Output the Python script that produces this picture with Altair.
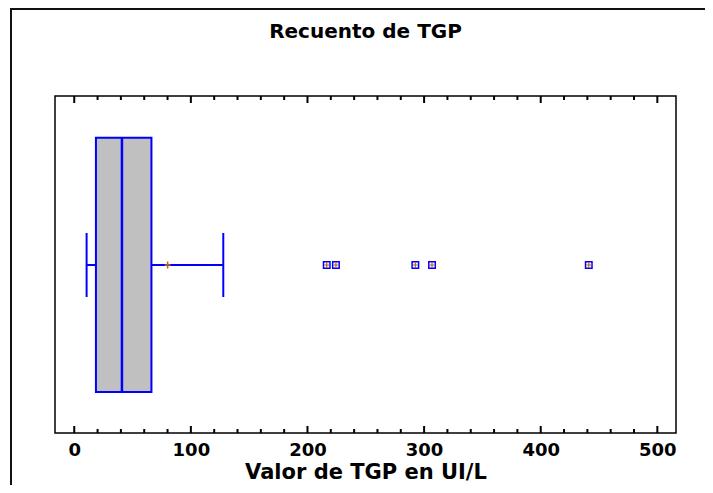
import altair as alt
import pandas as pd

# ---- data ----
chart_title = "Recuento de TGP"
x_title = "Valor de TGP en UI/L"

whisker_low = [10.6]
q1 = [18.6]
median = [40.9]
q3 = [66.2]
whisker_high = [127.8]
mean = [80.1]

outliers = [216.5, 224.4, 292.5, 306.8, 441.2]

major_ticks = [0, 100, 200, 300, 400, 500]
minor_ticks = [20, 40, 60, 80, 120, 140, 160, 180, 220, 240, 260, 280,
               320, 340, 360, 380, 420, 440, 460, 480]

# ---- tables ----
stats = pd.DataFrame({"low": whisker_low, "q1": q1, "median": median,
                      "q3": q3, "high": whisker_high, "mean": mean})
out_df = pd.DataFrame({"v": outliers})
major_df = pd.DataFrame({"v": major_ticks})
minor_df = pd.DataFrame({"v": minor_ticks})
one = pd.DataFrame({"t": [chart_title]})

W, H = 621, 337
FONT = "DejaVu Sans"
BLUE = "#0000ff"
BROWN = "#b8622c"
CROSS = "M-0.85,0H0.85M0,-1V1"

xs = alt.Scale(domain=[-16.5, 516], nice=False, zero=False)

x_axis = alt.Axis(values=major_ticks, ticks=False, tickSize=0, domain=False, grid=False,
                  labelFont=FONT, labelFontSize=18, labelFontWeight="bold",
                  labelColor="black", labelBaseline="alphabetic", labelPadding=22,
                  labelFlush=False,
                  title=x_title, titleFont=FONT, titleFontSize=21, titleFontWeight="bold",
                  titleColor="black", titleBaseline="alphabetic", titleY=45)


def X(field):
    return alt.X(field, type="quantitative", scale=xs, axis=x_axis, title=x_title)


box = alt.Chart(stats).mark_rect(fill="#c0c0c0", stroke=BLUE, strokeWidth=2).encode(
    x=X("q1"), x2="q3:Q", y=alt.value(41.7), y2=alt.value(296))

med = alt.Chart(stats).mark_rule(color=BLUE, strokeWidth=2.5).encode(
    x=X("median"), y=alt.value(41.7), y2=alt.value(296))

wl = alt.Chart(stats).mark_rule(color=BLUE, strokeWidth=2).encode(
    x=X("low"), x2="q1:Q", y=alt.value(169))
wh = alt.Chart(stats).mark_rule(color=BLUE, strokeWidth=2).encode(
    x=X("q3"), x2="high:Q", y=alt.value(169))
cl = alt.Chart(stats).mark_rule(color=BLUE, strokeWidth=2).encode(
    x=X("low"), y=alt.value(137), y2=alt.value(201))
ch = alt.Chart(stats).mark_rule(color=BLUE, strokeWidth=2).encode(
    x=X("high"), y=alt.value(137), y2=alt.value(201))

mean_mark = alt.Chart(stats).mark_point(shape=CROSS, size=49, filled=False,
                                        stroke=BROWN, strokeWidth=1.5, opacity=1).encode(
    x=X("mean"), y=alt.value(169))

out_sq = alt.Chart(out_df).mark_point(shape="square", size=42, filled=False,
                                      stroke=BLUE, strokeWidth=1.5, opacity=1).encode(
    x=X("v"), y=alt.value(169))
out_cr = alt.Chart(out_df).mark_point(shape=CROSS, size=36, filled=False,
                                      stroke=BROWN, strokeWidth=1.2, opacity=1).encode(
    x=X("v"), y=alt.value(169))

maj_b = alt.Chart(major_df).mark_rule(color="black", strokeWidth=2).encode(
    x=X("v"), y=alt.value(H), y2=alt.value(H - 7))
maj_t = alt.Chart(major_df).mark_rule(color="black", strokeWidth=2).encode(
    x=X("v"), y=alt.value(0), y2=alt.value(7))
min_b = alt.Chart(minor_df).mark_rule(color="black", strokeWidth=2).encode(
    x=X("v"), y=alt.value(H), y2=alt.value(H - 4))
min_t = alt.Chart(minor_df).mark_rule(color="black", strokeWidth=2).encode(
    x=X("v"), y=alt.value(0), y2=alt.value(4))

title_mark = alt.Chart(one).mark_text(font=FONT, fontSize=20, fontWeight="bold",
                                      align="center", baseline="alphabetic",
                                      color="black").encode(
    x=alt.value(W / 2), y=alt.value(-58.3), text="t:N")

frame_left = alt.Chart(one).mark_rule(color="#111111", strokeWidth=2).encode(
    x=alt.value(-44), y=alt.value(-88), y2=alt.value(H + 52))
frame_top = alt.Chart(one).mark_rule(color="#111111", strokeWidth=2).encode(
    x=alt.value(-45), x2=alt.value(W + 29), y=alt.value(-87))

chart = alt.layer(
    box, wl, wh, cl, ch, med, mean_mark, out_sq, out_cr,
    maj_b, maj_t, min_b, min_t, title_mark, frame_left, frame_top
).properties(
    width=W, height=H,
    padding={"left": 47, "top": 88, "right": 29, "bottom": 52},
    autosize=alt.AutoSizeParams(type="none"),
    background="white",
).configure_view(stroke="black", strokeWidth=1.5).configure_axisX(
    labelFontWeight="bold", labelFont=FONT, labelFontSize=18
)

chart.save("out.html", embed_options={"renderer": "svg", "actions": False})
